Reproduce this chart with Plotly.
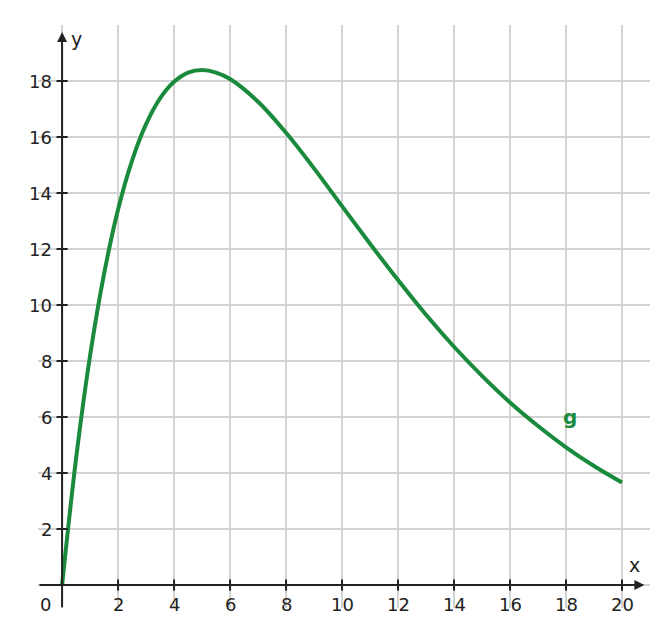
import plotly.graph_objects as go

x_vals = [0, 0.5, 1, 1.5, 2, 2.5, 3, 3.5, 4, 4.5, 5, 5.5, 6, 7, 8, 9, 10, 11, 12, 13, 14, 15, 16, 17, 18, 19, 20]
g_vals = [0, 4.52, 8.19, 11.11, 13.41, 15.16, 16.46, 17.38, 17.97, 18.30, 18.39, 18.30, 18.07, 17.26, 16.15,
          14.88, 13.53, 12.19, 10.89, 9.65, 8.51, 7.47, 6.52, 5.68, 4.92, 4.25, 3.66]
x_ticks = [2, 4, 6, 8, 10, 12, 14, 16, 18, 20]
y_ticks = [2, 4, 6, 8, 10, 12, 14, 16, 18]

green = '#1a8a3c'
txt = '#222222'
font = 'DejaVu Sans'

fig = go.Figure()
fig.add_trace(go.Scatter(x=x_vals, y=g_vals, mode='lines', line=dict(color=green, width=4, shape='spline'),
                         hoverinfo='skip'))
# tick marks on axes
fig.add_trace(go.Scatter(x=x_ticks, y=[0] * len(x_ticks), mode='markers',
                         marker=dict(symbol='line-ns', size=8, line=dict(color=txt, width=2))))
fig.add_trace(go.Scatter(x=[0] * len(y_ticks), y=y_ticks, mode='markers',
                         marker=dict(symbol='line-ew', size=8, line=dict(color=txt, width=2))))

ann = []
for t in x_ticks:
    ann.append(dict(x=t, y=0, yshift=-19, text=str(t), showarrow=False, font=dict(size=18, color=txt)))
for t in y_ticks:
    ann.append(dict(x=0, y=t, xshift=-8, xanchor='right', text=str(t), showarrow=False,
                    font=dict(size=18, color=txt)))
ann.append(dict(x=0, y=0, xshift=-17, yshift=-19, text='0', showarrow=False, font=dict(size=18, color=txt)))
ann.append(dict(x=20.8, y=0, ax=-0.86, ay=0, axref='x', ayref='y', text='', showarrow=True,
                arrowhead=2, arrowwidth=2, arrowcolor=txt, arrowsize=1))
ann.append(dict(x=0, y=19.75, ax=0, ay=-0.85, axref='x', ayref='y', text='', showarrow=True,
                arrowhead=2, arrowwidth=2, arrowcolor=txt, arrowsize=1))
ann.append(dict(x=20.45, y=0.7, text='x', showarrow=False, font=dict(size=19, color=txt)))
ann.append(dict(x=0.5, y=19.5, text='y', showarrow=False, font=dict(size=19, color=txt)))
ann.append(dict(x=18.15, y=6.0, text='<b>g</b>', showarrow=False, font=dict(size=20, color=green)))

fig.update_layout(
    width=660, height=626, showlegend=False,
    margin=dict(l=30, r=18, t=17, b=26, autoexpand=False),
    plot_bgcolor='white', paper_bgcolor='white',
    font=dict(family=font),
    annotations=ann,
    xaxis=dict(range=[-0.86, 21], tickvals=x_ticks + [0], showticklabels=False, showgrid=True,
               gridcolor='#d3d3d3', gridwidth=1.5, zeroline=False, fixedrange=True),
    yaxis=dict(range=[-0.82, 20], tickvals=y_ticks + [0], showticklabels=False, showgrid=True,
               gridcolor='#d3d3d3', gridwidth=1.5, zeroline=False, fixedrange=True),
)
fig.write_html('out.html')
